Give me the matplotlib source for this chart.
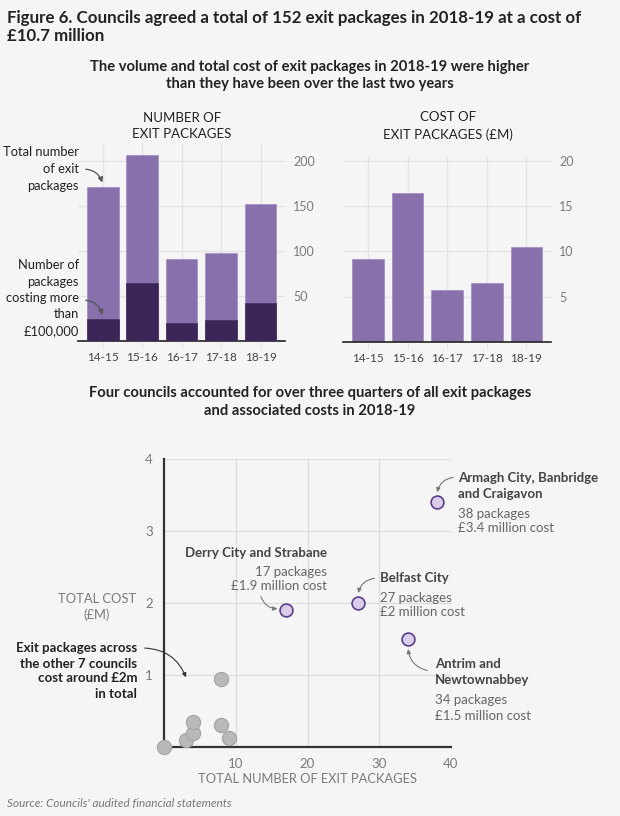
import matplotlib
matplotlib.use("Agg")
import matplotlib.pyplot as plt
import numpy as np

# ---- data ----
years = ["14-15", "15-16", "16-17", "17-18", "18-19"]
total_packages = [171, 207, 91, 98, 152]
packages_over_100k = [24, 64, 20, 23, 42]
cost_m = [9.1, 16.4, 5.7, 6.5, 10.5]

named_councils = ["Armagh City, Banbridge\nand Craigavon", "Belfast City",
                  "Antrim and\nNewtownabbey", "Derry City and Strabane"]
named_packages = [38, 27, 34, 17]
named_cost = [3.4, 2.0, 1.5, 1.9]

other_packages = [0, 3, 4, 4, 8, 9, 8]
other_cost = [0.0, 0.1, 0.2, 0.35, 0.3, 0.12, 0.95]

W, H = 620, 816
BG = "#f5f5f5"
LIGHT = "#8870ac"
DARK = "#3b2657"
GRID = "#e4e4e4"
TICK = "#7a7a7a"
TXT = "#222222"
FONT = "Lato"

plt.rcParams['font.family'] = [FONT, 'DejaVu Sans']

fig = plt.figure(figsize=(W / 100, H / 100), dpi=100, facecolor=BG)


def fx(x):
    return x / W


def fy(y):
    return 1 - y / H


def rect(l, t, r, b):
    return [fx(l), fy(b), (r - l) / W, (b - t) / H]


def ftext(x, y, s, **kw):
    fig.text(fx(x), fy(y), s, transform=fig.transFigure, **kw)


# ---- titles ----
ftext(7, 27, "Figure 6. Councils agreed a total of 152 exit packages in 2018-19 at a cost of\n£10.7 million",
      fontsize=12.2, fontweight="bold", color=TXT, va="center", ha="left", linespacing=1.2)
ftext(310, 75.5, "The volume and total cost of exit packages in 2018-19 were higher\nthan they have been over the last two years",
      fontsize=10.6, fontweight="bold", color=TXT, va="center", ha="center", linespacing=1.3)
ftext(310, 402, "Four councils accounted for over three quarters of all exit packages\nand associated costs in 2018-19",
      fontsize=10.6, fontweight="bold", color=TXT, va="center", ha="center", linespacing=1.3)

x = np.arange(len(years))


def style_bar_axes(ax, ymax, ticks):
    ax.set_facecolor(BG)
    ax.set_xlim(-0.63, 4.62)
    ax.set_ylim(0, ymax)
    ax.set_xticks(x)
    ax.set_xticklabels(years)
    ax.set_yticks(ticks)
    ax.yaxis.tick_right()
    ax.tick_params(axis="y", length=0, labelsize=9, labelcolor=TICK, pad=6)
    ax.tick_params(axis="x", length=5, color=GRID, labelsize=8.5, labelcolor="#444444", pad=3)
    for s in ["top", "right", "left"]:
        ax.spines[s].set_visible(False)
    ax.spines["bottom"].set_color("#222222")
    ax.spines["bottom"].set_linewidth(1.2)
    ax.grid(True, color=GRID, linewidth=1)
    ax.set_axisbelow(True)


# ---- bar chart 1 ----
ax1 = fig.add_axes(rect(78, 143, 285, 341))
ax1.bar(x, total_packages, width=0.8, color=LIGHT, edgecolor="#a591c4", linewidth=0.6, zorder=2)
ax1.bar(x, packages_over_100k, width=0.8, color=DARK, edgecolor="#4a3566", linewidth=0.6, zorder=3)
style_bar_axes(ax1, 220, [50, 100, 150, 200])
ftext(182, 126, "NUMBER OF\nEXIT PACKAGES", fontsize=9.5, color=TXT, ha="center", va="center", linespacing=1.45)

# ---- bar chart 2 ----
ax2 = fig.add_axes(rect(343, 156, 551, 342))
ax2.bar(x, cost_m, width=0.8, color=LIGHT, edgecolor="#a591c4", linewidth=0.6, zorder=2)
style_bar_axes(ax2, 20.5, [5, 10, 15, 20])
ftext(448, 126, "COST OF\nEXIT PACKAGES (£M)", fontsize=9.5, color=TXT, ha="center", va="center", linespacing=1.45)

# bar annotations
ftext(79, 169, "Total number\nof exit\npackages", fontsize=9.3, color=TXT, ha="right", va="center", linespacing=1.45)
ax1.annotate("", xy=(0, total_packages[0] + 2), xycoords="data",
             xytext=(fx(83), fy(169)), textcoords="figure fraction",
             arrowprops=dict(arrowstyle="-|>,head_length=0.3,head_width=0.15", color="#555555", lw=0.9,
                             connectionstyle="arc3,rad=-0.4"), annotation_clip=False)
ftext(79, 298, "Number of\npackages\ncosting more\nthan\n£100,000", fontsize=9.3, color=TXT, ha="right", va="center",
      linespacing=1.45)
ax1.annotate("", xy=(0, packages_over_100k[0] + 2), xycoords="data",
             xytext=(fx(83), fy(300)), textcoords="figure fraction",
             arrowprops=dict(arrowstyle="-|>,head_length=0.3,head_width=0.15", color="#555555", lw=0.9,
                             connectionstyle="arc3,rad=-0.4"), annotation_clip=False)

# ---- scatter ----
ax3 = fig.add_axes(rect(164, 459, 451, 747))
ax3.set_facecolor(BG)
ax3.set_xlim(0, 40)
ax3.set_ylim(0, 4)
ax3.set_xticks([10, 20, 30, 40])
ax3.set_yticks([1, 2, 3, 4])
ax3.grid(True, color="#dcdcdc", linewidth=0.9)
ax3.set_axisbelow(True)
for s in ["top", "right"]:
    ax3.spines[s].set_visible(False)
for s in ["left", "bottom"]:
    ax3.spines[s].set_color("#333333")
    ax3.spines[s].set_linewidth(1.6)
ax3.tick_params(length=0, labelsize=9.5, labelcolor=TICK, pad=8)
ax3.scatter(other_packages, other_cost, s=105, color="#b9b9b9", edgecolor="#a3a3a3", linewidth=0.8,
            zorder=3, clip_on=False)
ax3.scatter(named_packages, named_cost, s=85, color="#d9cde9", edgecolor="#5b3f8c", linewidth=1.2,
            zorder=4, clip_on=False)
ftext(307, 779, "TOTAL NUMBER OF EXIT PACKAGES", fontsize=9.3, color=TICK, ha="center", va="center")
ftext(97, 607, "TOTAL COST\n(£M)", fontsize=9.3, color=TICK, ha="center", va="center", linespacing=1.35)

ARW = dict(arrowstyle="-|>,head_length=0.25,head_width=0.12", color="#777777", lw=0.8)
NAME = "#444444"
SUB = "#666666"

# Derry
ftext(327, 553, "Derry City and Strabane", fontsize=9.5, fontweight="bold", color=NAME, ha="right", va="center")
ftext(327, 579, "17 packages\n£1.9 million cost", fontsize=9.5, color=SUB, ha="right", va="center", linespacing=1.3)
ax3.annotate("", xy=(named_packages[3] - 0.8, named_cost[3] + 0.02), xycoords="data",
             xytext=(fx(260), fy(594)), textcoords="figure fraction",
             arrowprops=dict(connectionstyle="arc3,rad=0.4", **ARW), annotation_clip=False)
# Belfast
ftext(380, 578, "Belfast City", fontsize=9.5, fontweight="bold", color=NAME, ha="left", va="center")
ftext(380, 605, "27 packages\n£2 million cost", fontsize=9.5, color=SUB, ha="left", va="center", linespacing=1.3)
ax3.annotate("", xy=(named_packages[1], named_cost[1] + 0.1), xycoords="data",
             xytext=(fx(377), fy(578)), textcoords="figure fraction",
             arrowprops=dict(connectionstyle="arc3,rad=0.4", **ARW), annotation_clip=False)
# Armagh
ftext(458, 486, "Armagh City, Banbridge\nand Craigavon", fontsize=9.5, fontweight="bold", color=NAME, ha="left",
      va="center", linespacing=1.3)
ftext(458, 521, "38 packages\n£3.4 million cost", fontsize=9.5, color=SUB, ha="left", va="center", linespacing=1.3)
ax3.annotate("", xy=(named_packages[0], named_cost[0] + 0.1), xycoords="data",
             xytext=(fx(456), fy(477)), textcoords="figure fraction",
             arrowprops=dict(connectionstyle="arc3,rad=0.4", **ARW), annotation_clip=False)
# Antrim
ftext(435, 672, "Antrim and\nNewtownabbey", fontsize=9.5, fontweight="bold", color=NAME, ha="left",
      va="center", linespacing=1.3)
ftext(435, 708, "34 packages\n£1.5 million cost", fontsize=9.5, color=SUB, ha="left", va="center", linespacing=1.3)
ax3.annotate("", xy=(named_packages[2], named_cost[2] - 0.1), xycoords="data",
             xytext=(fx(430), fy(671)), textcoords="figure fraction",
             arrowprops=dict(connectionstyle="arc3,rad=-0.4", **ARW), annotation_clip=False)

# others
ftext(137, 671, "Exit packages across\nthe other 7 councils\ncost around £2m\nin total", fontsize=9.5,
      fontweight="bold", color=TXT, ha="right", va="center", linespacing=1.3)
ax3.annotate("", xy=(3.2, 0.93), xycoords="data",
             xytext=(fx(142), fy(648)), textcoords="figure fraction",
             arrowprops=dict(arrowstyle="-|>,head_length=0.25,head_width=0.12", color="#333333", lw=0.8,
                             connectionstyle="arc3,rad=-0.35"), annotation_clip=False)

ftext(7, 803, "Source: Councils' audited financial statements", fontsize=8.5, style="italic", color="#777777",
      ha="left", va="center")

fig.savefig("out.png", dpi=100, facecolor=BG)
